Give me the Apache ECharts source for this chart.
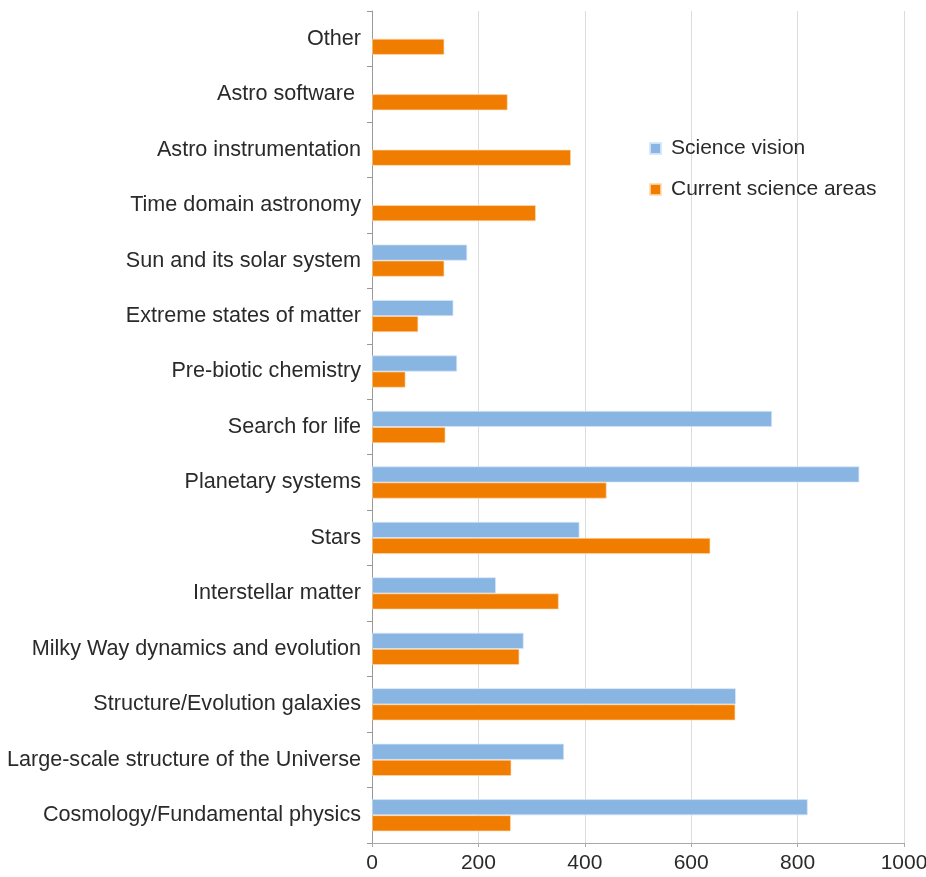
<!DOCTYPE html>
<html>
<head>
<meta charset="utf-8">
<script src="https://cdn.jsdelivr.net/npm/echarts@6/dist/echarts.min.js"></script>
<style>
html,body{margin:0;padding:0;background:#fff;overflow:hidden;}
#chart{width:926px;height:877px;}
</style>
</head>
<body>
<div id="chart"></div>
<script>
// categories from bottom to top
const categories = [
  'Cosmology/Fundamental physics',
  'Large-scale structure of the Universe',
  'Structure/Evolution galaxies',
  'Milky Way dynamics and evolution',
  'Interstellar matter',
  'Stars',
  'Planetary systems',
  'Search for life',
  'Pre-biotic chemistry',
  'Extreme states of matter',
  'Sun and its solar system',
  'Time domain astronomy',
  'Astro instrumentation',
  'Astro software ',
  'Other'
];
const scienceVision = [819, 361, 684, 285, 233, 390, 916, 752, 160, 153, 179, null, null, null, null];
const currentAreas  = [261, 262, 683, 277, 351, 636, 441, 138, 63, 87, 136, 308, 374, 255, 136];
const xTicks = [0, 200, 400, 600, 800, 1000];

const FONT = 'Liberation Sans';
const chart = echarts.init(document.getElementById('chart'), null, { width: 926, height: 877 });
chart.setOption({
  animation: false,
  backgroundColor: '#fff',
  textStyle: { fontFamily: FONT },
  grid: { left: 372, right: 22, top: 11, bottom: 34, containLabel: false, outerBoundsMode: 'none' },
  legend: {
    data: ['Science vision', 'Current science areas'],
    orient: 'vertical',
    left: 644, top: 133,
    itemWidth: 11, itemHeight: 11, itemGap: 20,
    icon: 'rect',
    textStyle: { fontFamily: FONT, fontSize: 21, color: '#2a2a2a', lineHeight: 21, padding: [0, 0, 0, 5] },
    selectedMode: false
  },
  xAxis: {
    type: 'value', min: xTicks[0], max: xTicks[xTicks.length-1], interval: 200,
    axisLine: { show: true, lineStyle: { color: '#aaa', width: 1 } },
    axisTick: { show: true, length: 4, lineStyle: { color: '#aaa' } },
    axisLabel: { fontFamily: FONT, fontSize: 21, color: '#2a2a2a', margin: 10, formatter: v => String(v) },
    splitLine: { show: true, lineStyle: { color: '#dcdcdc', width: 1 } }
  },
  yAxis: {
    type: 'category', data: categories,
    axisLine: { show: true, lineStyle: { color: '#999', width: 1 } },
    axisTick: { show: true, length: 5, lineStyle: { color: '#999' } },
    axisLabel: { fontFamily: FONT, fontSize: 21.6, color: '#2a2a2a', margin: 11 },
    splitLine: { show: false }
  },
  series: [
    {
      name: 'Science vision', type: 'bar', data: scienceVision,
      barCategoryGap: '42%', barGap: '0%',
      itemStyle: { color: '#89B5E2', borderColor: 'rgba(215,230,248,0.9)', borderWidth: 0.8 }
    },
    {
      name: 'Current science areas', type: 'bar', data: currentAreas,
      barCategoryGap: '42%', barGap: '0%',
      itemStyle: { color: '#F07C00', borderColor: 'rgba(255,220,180,0.8)', borderWidth: 0.8 }
    }
  ]
});
</script>
</body>
</html>
